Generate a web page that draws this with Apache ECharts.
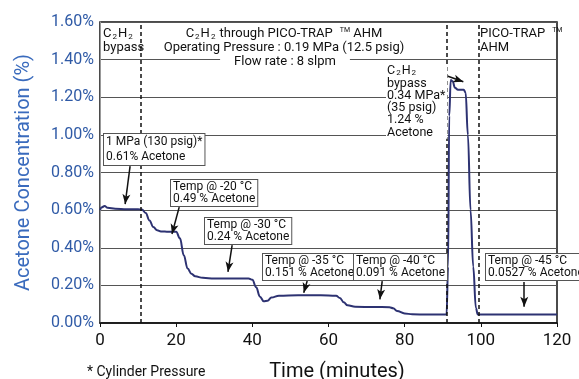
<!DOCTYPE html>
<html>
<head>
<meta charset="utf-8">
<script src="https://cdn.jsdelivr.net/npm/echarts@6/dist/echarts.min.js"></script>
<style>
  html, body { margin: 0; padding: 0; background: #fff; }
  #chart { width: 579px; height: 379px; }
</style>
</head>
<body>
<div id="chart"></div>
<script>
// acetone concentration vs time
const timeMin = [
  0, 0.5, 1.2, 2, 4, 7, 10, 11, 12, 13, 14, 15, 16, 18, 20,
  21, 22, 23, 24, 25, 27, 30, 35, 39, 40, 41, 42, 43, 44, 45, 47,
  52, 58, 62, 63, 64, 65, 67, 72, 76, 77, 78, 80, 82, 86, 91,
  91.4, 91.7, 92.1, 92.6, 93.2, 94, 95.5, 96, 96.6, 97.3, 98, 98.7, 99.2, 100, 110, 120
];
const acetonePct = [
  0.60, 0.615, 0.622, 0.612, 0.607, 0.605, 0.605, 0.603, 0.585, 0.545, 0.51, 0.493, 0.487, 0.485, 0.485,
  0.45, 0.36, 0.29, 0.262, 0.248, 0.240, 0.237, 0.237, 0.237, 0.23, 0.19, 0.14, 0.115, 0.118, 0.135, 0.145,
  0.147, 0.147, 0.145, 0.133, 0.11, 0.094, 0.086, 0.085, 0.084, 0.078, 0.064, 0.051, 0.046, 0.045, 0.045,
  0.3, 1.1, 1.292, 1.285, 1.25, 1.24, 1.24, 1.225, 1.0, 0.6, 0.3, 0.08, 0.045, 0.045, 0.045, 0.045
];
// dashed phase dividers (minutes)
const dividerTimes = [10.8, 91, 99.5];
// arrows: [tail time, tail %, tip time, tip %]
const arrows = [
  [7.9, 0.834, 6.6, 0.632],
  [20.8, 0.616, 18.9, 0.473],
  [34.7, 0.414, 33.6, 0.272],
  [54.4, 0.223, 53.5, 0.161],
  [74.1, 0.223, 73.5, 0.126],
  [111.4, 0.218, 111.4, 0.087],
  [89.0, 1.329, 95.4, 1.282]
];

const FONT = 'Roboto';
const chart = echarts.init(document.getElementById('chart'));

const markData = [];
dividerTimes.forEach(t => {
  markData.push({ xAxis: t, lineStyle: { color: '#111', width: 1.5, type: [4, 3] } });
});
arrows.forEach(a => {
  markData.push([
    { coord: [a[0], a[1]], symbol: 'none', lineStyle: { color: '#111', width: 1.5, type: 'solid' } },
    { coord: [a[2], a[3]], symbol: 'arrow', symbolSize: [6, 10] }
  ]);
});

// small helper for text boxes
function box(x, y, text, lh) {
  return {
    type: 'text', x: x, y: y, z: 100,
    style: {
      text: text, font: '12px ' + FONT, fill: '#111', lineHeight: lh || 12,
      backgroundColor: '#fff', borderColor: '#555', borderWidth: 1, padding: [1, 2, 1, 2]
    }
  };
}

const sub = { fontSize: 8, fontFamily: FONT, fill: '#111', verticalAlign: 'bottom', padding: [0, 1, 0, 1] };
const nrm = { fontSize: 13, fontFamily: FONT, fill: '#111' };
const tm = { fontSize: 7, fontFamily: FONT, fill: '#111', verticalAlign: 'top', padding: [0, 0, 0, 7] };

const option = {
  animation: false,
  grid: { left: 100, right: 22, top: 22, bottom: 56, show: true, borderColor: '#111', borderWidth: 1.5 },
  xAxis: {
    type: 'value', min: 0, max: 120, interval: 20,
    axisLine: { lineStyle: { color: '#111', width: 1.5 } },
    axisTick: { show: true, length: 4, lineStyle: { color: '#111' } },
    axisLabel: { color: '#111', fontSize: 17, fontFamily: FONT, margin: 9 },
    splitLine: { show: false }
  },
  yAxis: {
    type: 'value', min: 0, max: 1.6, interval: 0.2,
    name: 'Acetone Concentration (%)', nameLocation: 'middle', nameGap: 66,
    nameTextStyle: { color: '#3a6bbd', fontSize: 20, fontFamily: FONT },
    axisLine: { show: true, lineStyle: { color: '#999', width: 1 } },
    axisTick: { show: false },
    axisLabel: { color: '#2f5aa6', fontSize: 16, fontFamily: FONT, margin: 6,
      formatter: v => v.toFixed(2) + '%' },
    splitLine: { lineStyle: { color: '#555', width: 1 } }
  },
  series: [{
    type: 'line',
    data: timeMin.map((t, i) => [t, acetonePct[i]]),
    showSymbol: false,
    smooth: 0.4,
    smoothMonotone: 'x',
    lineStyle: { color: '#2d3272', width: 2 },
    markLine: { silent: true, symbol: ['none', 'none'], label: { show: false }, data: markData }
  }],
  graphic: [
    // header row
    {
      type: 'text', x: 103, y: 27, z: 100,
      style: { text: '{n|C}{s|2}{n|H}{s|2}\n{n|bypass}', lineHeight: 14, rich: { n: nrm, s: sub } }
    },
    {
      type: 'text', x: 284, y: 27, z: 100,
      style: {
        text: '{n|C}{s|2}{n|H}{s|2}{n| through PICO-TRAP}{t|TM}{n| AHM}\n{n|Operating Pressure : 0.19 MPa (12.5 psig)}',
        align: 'center', lineHeight: 14, rich: { n: nrm, s: sub, t: tm }
      }
    },
    {
      type: 'text', x: 285, y: 55, z: 100,
      style: { text: 'Flow rate : 8 slpm', font: '13px ' + FONT, fill: '#111', align: 'center',
        lineHeight: 14, backgroundColor: '#fff', padding: [0, 14, 0, 14] }
    },
    {
      type: 'text', x: 480, y: 27, z: 100,
      style: { text: '{n|PICO-TRAP}{t|TM}\n{n|AHM}', lineHeight: 14, rich: { n: nrm, t: tm } }
    },
    // bypass note
    {
      type: 'text', x: 386, y: 65, z: 100,
      style: {
        text: '{n|C}{s|2}{n|H}{s|2}\n{n|bypass}\n{n|0.34 MPa*}\n{n|(35 psig)}\n{n|1.24 %}\n{n|Acetone}',
        lineHeight: 12.3, backgroundColor: '#fff', padding: [0, 2, 0, 1],
        rich: { n: { fontSize: 12.5, fontFamily: FONT, fill: '#111' }, s: sub }
      }
    },
    box(104, 134, '1 MPa (130 psig)*\n0.61% Acetone', 14.5),
    box(171, 180, 'Temp @ -20 \u00b0C\n0.49 % Acetone'),
    box(205, 218, 'Temp @ -30 \u00b0C\n0.24 % Acetone'),
    box(263, 254, 'Temp @ -35 \u00b0C\n0.151 % Acetone'),
    box(354, 254, 'Temp @ -40 \u00b0C\n0.091 % Acetone'),
    box(486, 254, 'Temp @ -45 \u00b0C\n0.0527 % Acetone'),
    // bottom texts
    {
      type: 'text', x: 337, y: 372, z: 100,
      style: { text: 'Time (minutes)', font: '20px ' + FONT, fill: '#111', align: 'center', verticalAlign: 'middle' }
    },
    {
      type: 'text', x: 87, y: 372, z: 100,
      style: { text: '* Cylinder Pressure', font: '14px ' + FONT, fill: '#111', verticalAlign: 'middle' }
    }
  ]
};

chart.setOption(option);
</script>
</body>
</html>
